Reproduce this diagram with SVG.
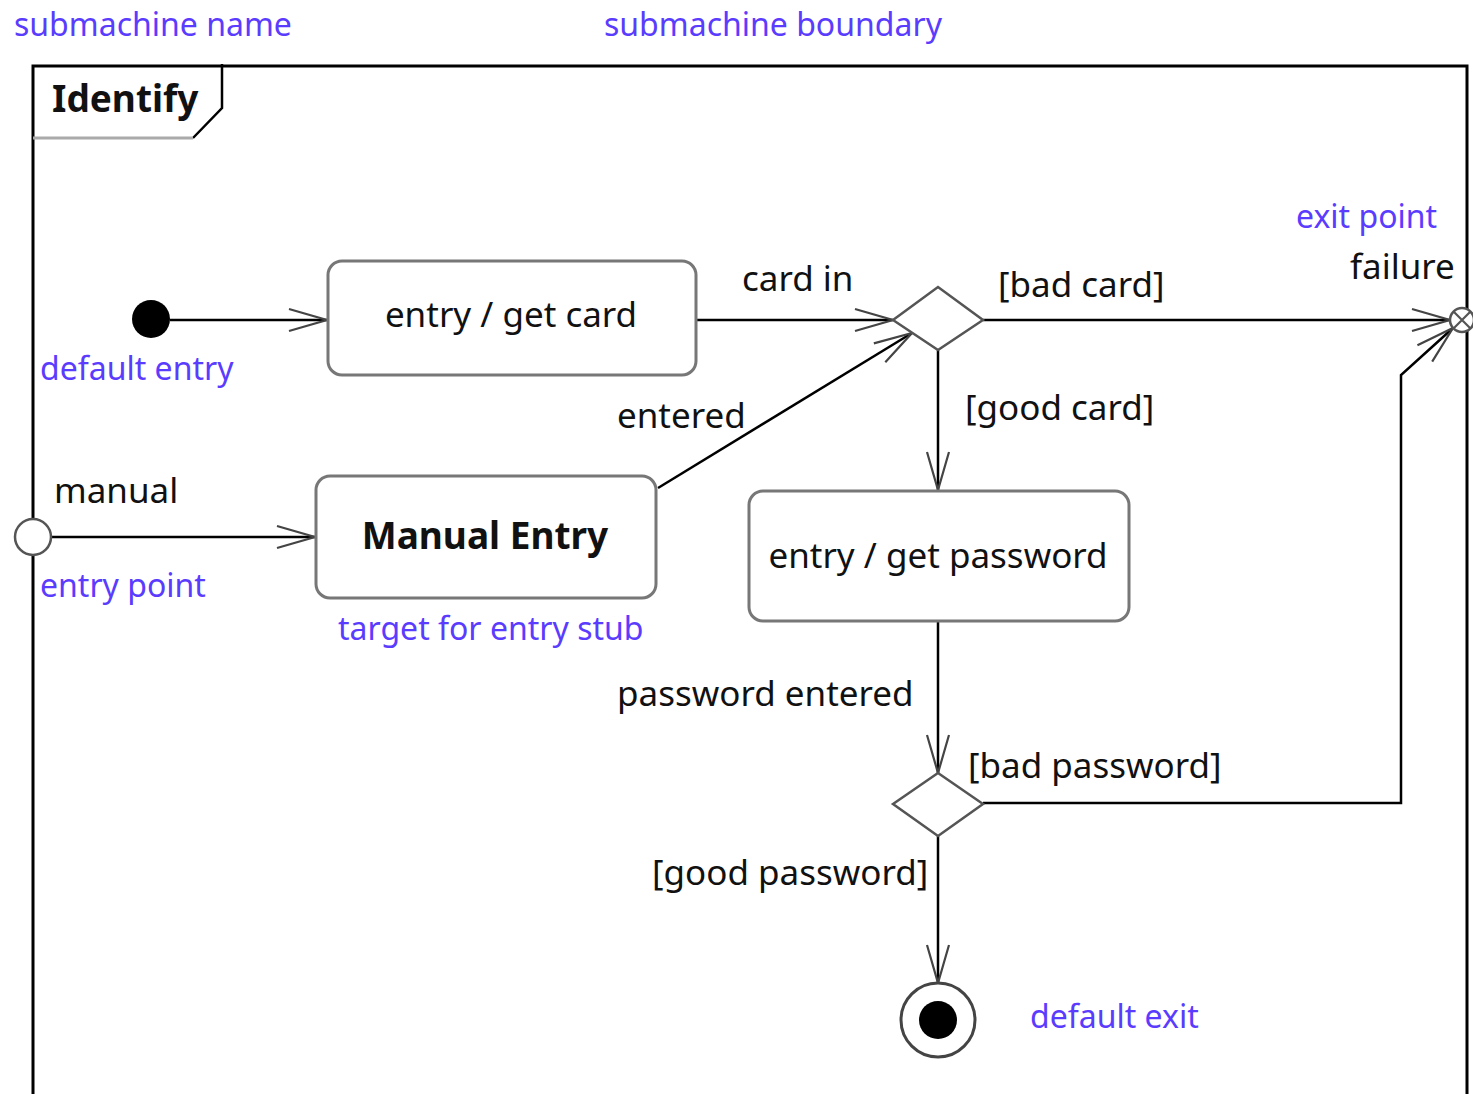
<svg xmlns="http://www.w3.org/2000/svg" width="1473" height="1094" viewBox="0 0 1473 1094">
<style>
.t{font-family:"Noto Sans","Open Sans",sans-serif;font-size:35px;fill:#111}
.b{font-family:"Noto Sans","Open Sans",sans-serif;font-size:32px;fill:#5a3cff}
.bold{font-weight:bold}
.st{fill:#fff;stroke:#777;stroke-width:3}
.ln{fill:none;stroke:#000;stroke-width:2.5}
.dm{fill:#fff;stroke:#555;stroke-width:2.5}
</style>
<defs>
<marker id="ar" markerUnits="userSpaceOnUse" markerWidth="44" markerHeight="26" refX="40" refY="13" orient="auto">
<path d="M2,2 L40,13 L2,24" fill="none" stroke="#444" stroke-width="2.2"/>
</marker>
</defs>
<rect width="1473" height="1094" fill="#fff"/>
<g id="frame">
<path d="M33,1094 V66 H1467 V1094" fill="none" stroke="#000" stroke-width="3"/>
<path d="M222,64 V108 L193,138" fill="none" stroke="#000" stroke-width="2.5"/>
<line x1="33" y1="138" x2="193" y2="138" stroke="#aaa" stroke-width="3"/>
<text x="52" y="112" class="t bold" style="font-size:37px">Identify</text>
</g>
<g id="connectors">
<line class="ln" x1="170" y1="320" x2="327" y2="320" marker-end="url(#ar)"/>
<line class="ln" x1="696" y1="320" x2="893" y2="320" marker-end="url(#ar)"/>
<line class="ln" x1="983" y1="320" x2="1450" y2="320" marker-end="url(#ar)"/>
<line class="ln" x1="938" y1="350" x2="938" y2="490" marker-end="url(#ar)"/>
<line class="ln" x1="51" y1="537" x2="315" y2="537" marker-end="url(#ar)"/>
<line class="ln" x1="658" y1="488" x2="912" y2="333" marker-end="url(#ar)" stroke-width="2"/>
<line class="ln" x1="938" y1="621" x2="938" y2="773" marker-end="url(#ar)"/>
<polyline class="ln" points="983,803 1401,803 1401,375 1453,328" marker-end="url(#ar)"/>
<line class="ln" x1="938" y1="836" x2="938" y2="983" marker-end="url(#ar)"/>
<text x="742" y="291" class="t">card in</text>
<text x="998" y="297" class="t">[bad card]</text>
<text x="965" y="420" class="t">[good card]</text>
<text x="617" y="428" class="t">entered</text>
<text x="54" y="503" class="t">manual</text>
<text x="617" y="706" class="t">password entered</text>
<text x="968" y="778" class="t">[bad password]</text>
<text x="652" y="885" class="t">[good password]</text>
<text x="1350" y="279" class="t">failure</text>
</g>
<g id="initial"><circle cx="151" cy="319" r="19" fill="#000"/></g>
<g id="getCard">
<rect class="st" x="328" y="261" width="368" height="114" rx="14"/>
<text x="511" y="327" class="t" text-anchor="middle">entry / get card</text>
</g>
<g id="cardDecision"><polygon class="dm" points="893,320 938,287 983,320 938,350"/></g>
<g id="exitPoint">
<circle cx="1462" cy="320" r="12" fill="#fff" stroke="#555" stroke-width="2.5"/>
<path d="M1453.5,311.5 L1470.5,328.5 M1470.5,311.5 L1453.5,328.5" stroke="#555" stroke-width="2.2"/>
</g>
<g id="entryPoint"><circle cx="33" cy="537" r="18" fill="#fff" stroke="#555" stroke-width="2.5"/></g>
<g id="manualEntry">
<rect class="st" x="316" y="476" width="340" height="122" rx="14"/>
<text x="485" y="549" class="t bold" text-anchor="middle" style="font-size:37px">Manual Entry</text>
</g>
<g id="getPassword">
<rect class="st" x="749" y="491" width="380" height="130" rx="14"/>
<text x="938" y="568" class="t" text-anchor="middle">entry / get password</text>
</g>
<g id="pwDecision"><polygon class="dm" points="893,804 938,773 983,804 938,836"/></g>
<g id="final">
<circle cx="938" cy="1020" r="37" fill="#fff" stroke="#444" stroke-width="3"/>
<circle cx="938" cy="1020" r="19" fill="#000"/>
</g>
<g id="notes">
<text x="14" y="36" class="b">submachine name</text>
<text x="604" y="36" class="b">submachine boundary</text>
<text x="1296" y="228" class="b">exit point</text>
<text x="40" y="380" class="b">default entry</text>
<text x="40" y="597" class="b">entry point</text>
<text x="338" y="640" class="b">target for entry stub</text>
<text x="1030" y="1028" class="b">default exit</text>
</g>
</svg>
